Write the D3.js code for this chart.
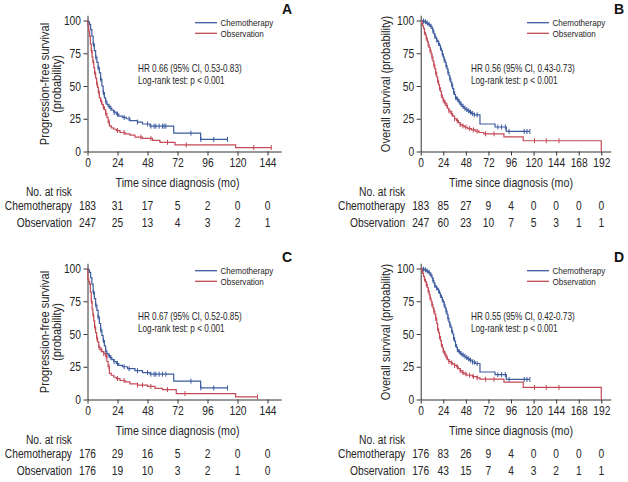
<!DOCTYPE html>
<html><head><meta charset="utf-8">
<script src="https://cdn.jsdelivr.net/npm/d3@7"></script>
<style>
body{margin:0;background:#fff;}
svg{display:block;font-family:"Liberation Sans",Arial,sans-serif;}
</style></head><body>
<svg id="c" width="628" height="482"></svg>
<script>
// ---------- DATA ----------
const groups = ["Chemotherapy", "Observation"];
const pfsTicks = [0, 24, 48, 72, 96, 120, 144];
const osTicks = [0, 24, 48, 72, 96, 120, 144, 168, 192];
const yTicks = [0, 25, 50, 75, 100];
const panelLetters = ["A", "B", "C", "D"];
const hrTexts = ["HR 0.66 (95% CI, 0.53-0.83)", "HR 0.56 (95% CI, 0.43-0.73)",
                 "HR 0.67 (95% CI, 0.52-0.85)", "HR 0.55 (95% CI, 0.42-0.73)"];
const logRankText = "Log-rank test: p < 0.001";
const yLabelPFS = ["Progression-free survival", "(probability)"];
const yLabelOS = "Overall survival (probability)";
const xLabel = "Time since diagnosis (mo)";
const riskLabel = "No. at risk";

// Panel A: progression-free survival
const aChemo = [[0,100],[0.5,99],[1.5,97],[2.5,93],[3.5,88],[4.5,82],[5.5,77],[6.5,72],[7.5,68],[8.5,64],[9.5,60],[10.5,55],[11.5,50],[12.5,45],[13.5,41],[14.5,38],[15.5,36],[16.5,34.5],[18,33],[19.5,31.5],[21,30],[23,28.5],[25,27],[28,26],[31,25],[34,23.5],[40,22.5],[44,21],[50,19.3],[69,14],[90.5,9.2]];
const aChemoEnd = 112;
const aChemoCens = [4.8,6.7,8.5,10.7,12.8,14.7,17.3,18.7,21.3,24,29.3,33.3,40,48,50.7,53.3,54.7,57.3,60,61.3,62.7,82.7,90.7,101,112];
const aObs = [[0,100],[0.3,96],[1,92],[1.7,88],[2.3,82],[3,77],[3.7,72],[4.3,68],[5,64],[5.7,60],[6.5,56],[7.3,52],[8,49],[8.7,45],[9.5,41],[10.5,38],[11.5,36],[12.5,34],[13.5,32],[14.5,29],[15.5,26],[16.5,22.5],[17.5,19.5],[19,18],[21,17],[23,16],[26,14.5],[30,13.5],[34,12.5],[38,11],[44,10],[52,8.5],[58,7],[70,5],[118.5,3]];
const aObsEnd = 147;
const aObsCens = [3.2,4.8,5.9,7.5,9.3,11.2,12.8,14.7,17.3,24,29.3,42.7,50.7,64,79,133,147];
const aRiskChemo = [183, 31, 17, 5, 2, 0, 0];
const aRiskObs = [247, 25, 13, 4, 3, 2, 1];

// Panel B: overall survival
const bChemo = [[0,100],[2,99.5],[4,99],[6,98],[8,97],[10,95.5],[12,94],[13,92],[14,90],[15,88],[16,86.5],[17,85],[18,84],[19,82.5],[20,81],[21,79],[22,77],[23,74.5],[24,72],[25,70],[26,68],[27,65.5],[28,63],[29,60.5],[30,58],[31,55.5],[32,53],[33,51],[34,48],[35,45.5],[36,43.5],[37,41.5],[38,40],[40,38],[42,36],[44,34.5],[46,33],[48,32],[50,31],[52,30],[54,29],[57,28],[63,21],[79,18.7],[91,15.3]];
const bChemoEnd = 116;
const bChemoCens = [3,5,7,9,11,13,15,17,19,21,23,25,27,29,31,33,35,37,39,41,43,45,47,49,51,53,55,57,60,82,86,90,94,110,113,116];
const bObs = [[0,100],[1,98],[2,96],[3,94],[4,91],[5,89],[6,86.5],[7,84],[8,81.5],[9,79.5],[10,77],[11,74.5],[12,72],[13,69],[14,66],[15,63],[16,60],[17,57],[18,54],[19,51],[20,48.5],[21,46],[22,43],[23,41],[24,39],[25.5,37],[27,35],[28.5,33],[30,31],[32,29],[34,27],[36,25],[38,23.5],[40,22],[42,20.5],[44,19.5],[47,18.5],[50,17.5],[54,16.5],[58,15.5],[62,14.5],[67,13.5],[88.5,11.2],[109,8.2],[192,0]];
const bObsEnd = 192;
const bObsCens = [4,6,8,10,12,14,16,18,20,22,24,26,28,30,33,36,39,42,45,48,52,56,60,69,78,121,133.5,147];
const bRiskChemo = [183, 85, 27, 9, 4, 0, 0, 0, 0];
const bRiskObs = [247, 60, 23, 10, 7, 5, 3, 1, 1];

// Panel C: progression-free survival
const cChemo = [[0,100],[0.5,99],[1.5,97],[2.5,93],[3.5,88],[4.5,82],[5.5,77],[6.5,72],[7.5,68],[8.5,63],[9.5,58],[10.5,53],[11.5,49],[12.5,45],[13.5,41],[14.5,37],[15.5,35],[16.5,33.5],[18,32],[19.5,30.5],[21,29],[23,27.5],[25,26],[28,25],[32,23.5],[38,22],[44,20.5],[50,19.3],[69,14],[90.5,8.8]];
const cChemoEnd = 112;
const cChemoCens = [4.8,6.7,8.5,10.7,12.8,14.7,17.3,18.7,21.3,24,29.3,33.3,40,48,50.7,53.3,54.7,57.3,60,62.7,82.7,90.7,101,112];
const cObs = [[0,100],[0.3,92],[1,90],[1.7,88],[2.3,82],[3,75],[3.7,69],[4.3,64],[5,60],[5.7,55],[6.5,51],[7.3,47],[8,44],[9,40],[10,38],[11.5,36.5],[13,35],[14.5,33],[15.5,29],[16.5,25],[17.5,20],[19,18.5],[21,17],[23,16],[26,14.5],[30,13.5],[34,12],[40,11],[48,10],[54,8.5],[60,7.5],[71,4.5],[118.5,2]];
const cObsEnd = 136;
const cObsCens = [3.2,4.8,6,7.5,9.3,11,13,15,17.3,24,29.3,40,44,50.7,64,78,136];
const cRiskChemo = [176, 29, 16, 5, 2, 0, 0];
const cRiskObs = [176, 19, 10, 3, 2, 1, 0];

// Panel D: overall survival
const dChemo = [[0,100],[2,99.5],[4,99],[6,98],[8,97],[10,95],[12,93],[13,91],[14,89],[15,87],[16,86],[17,85],[18,84],[19,83],[20,81],[21,79.5],[22,78],[23,76],[24,74.5],[25,72],[26,70],[27,67.5],[28,65],[29,62],[30,59],[31,57],[32,55],[33,52.5],[34,50],[35,47],[36,44.5],[37,42],[38,40],[39,38],[40,36.5],[42,35],[44,34],[46,33],[48,32],[50,31],[52,30],[55,28.5],[58,27.5],[63,21],[79,19],[91,15.3]];
const dChemoEnd = 116;
const dChemoCens = [3,5,7,9,11,13,15,17,19,21,23,25,27,29,31,33,35,37,39,41,43,45,47,49,51,53,55,57,60,82,86,90,94,110,113,116];
const dObs = [[0,100],[1,98.5],[2,96.5],[3,94],[4,92],[5,90],[6,88],[7,85.5],[8,83],[9,80],[10,77.5],[11,75],[12,72.5],[13,70],[14,67.5],[15,65],[16,62],[17,58],[18,54],[19,51],[20,48],[21,45],[22,42],[23,39.5],[24,37],[25.5,34.5],[27,32],[28.5,30.5],[30,29],[32,28],[34,27],[36,26],[38,25],[40,23.5],[42,22],[44,20.5],[46,19.5],[49,18.5],[55,17.5],[60,16.5],[63,15.5],[88.5,13.3],[109,9.2],[192,0]];
const dObsEnd = 192;
const dObsCens = [4,6,8,10,12,14,16,18,20,22,24,26,28,30,33,36,39,42,45,48,52,56,60,69,78,121,133.5,147];
const dRiskChemo = [176, 83, 26, 9, 4, 0, 0, 0, 0];
const dRiskObs = [176, 43, 15, 7, 4, 3, 2, 1, 1];

// ---------- STYLE / LAYOUT ----------
const colors = ["#3d5c9f", "#c44a57"];
const textColor = "#262626";
const axisColor = "#333";
const dy = 248;
const NARROW = 0.82; // horizontal compression to mimic a condensed face

const panels = [
  {letter: panelLetters[0], curves: [[aChemo,aChemoEnd,aChemoCens],[aObs,aObsEnd,aObsCens]], risk:[aRiskChemo,aRiskObs], ticks: pfsTicks, xMax: 155, x0: 87.5, x1: 87.5+155*1.25, top: 0, left: true, hr: hrTexts[0]},
  {letter: panelLetters[1], curves: [[bChemo,bChemoEnd,bChemoCens],[bObs,bObsEnd,bObsCens]], risk:[bRiskChemo,bRiskObs], ticks: osTicks, xMax: 202, x0: 420.7, x1: 420.7+202*0.9406, top: 0, left: false, hr: hrTexts[1]},
  {letter: panelLetters[2], curves: [[cChemo,cChemoEnd,cChemoCens],[cObs,cObsEnd,cObsCens]], risk:[cRiskChemo,cRiskObs], ticks: pfsTicks, xMax: 155, x0: 87.5, x1: 87.5+155*1.25, top: dy, left: true, hr: hrTexts[2]},
  {letter: panelLetters[3], curves: [[dChemo,dChemoEnd,dChemoCens],[dObs,dObsEnd,dObsCens]], risk:[dRiskChemo,dRiskObs], ticks: osTicks, xMax: 202, x0: 420.7, x1: 420.7+202*0.9406, top: dy, left: false, hr: hrTexts[3]}
];

const svg = d3.select("#c");

function survAt(curve, t) {
  let s = 100;
  for (const [tt, ss] of curve) if (tt <= t) s = ss;
  return s;
}

// narrow text helper
function ntext(parent, x, y, str, size, anchor, rot) {
  return parent.append("text")
    .attr("transform", `translate(${x},${y})` + (rot ? ` rotate(${rot})` : "") + ` scale(${NARROW},1)`)
    .attr("text-anchor", anchor || "start")
    .attr("fill", textColor)
    .style("font-size", size + "px")
    .text(str);
}

panels.forEach(p => {
  const g = svg.append("g").attr("transform", `translate(0,${p.top})`);
  const x = d3.scaleLinear().domain([0, p.xMax]).range([p.x0, p.x1]);
  const y = d3.scaleLinear().domain([0, 104]).range([151.5, 151.5 - 104*1.31]);

  // axes
  const xa = g.append("g").attr("transform", `translate(0,${y(0)})`)
    .call(d3.axisBottom(x).tickValues(p.ticks).tickSize(4).tickSizeOuter(0).tickPadding(3));
  const ya = g.append("g").attr("transform", `translate(${x(0)},0)`)
    .call(d3.axisLeft(y).tickValues(yTicks).tickSize(4).tickSizeOuter(0).tickPadding(2));
  [xa, ya].forEach(a => {
    a.select(".domain").attr("stroke", axisColor).attr("stroke-width", 1);
    a.selectAll(".tick line").attr("stroke", axisColor);
    a.selectAll(".tick text").attr("fill", textColor).style("font-size", "12.5px")
      .style("font-family", '"Liberation Sans",Arial,sans-serif');
  });
  xa.selectAll(".tick text").attr("transform", `scale(${NARROW},1)`);
  ya.selectAll(".tick text").attr("x", -6.5 / NARROW).attr("transform", `scale(${NARROW},1)`);

  // curves
  const line = d3.line().x(d => x(d[0])).y(d => y(d[1])).curve(d3.curveStepAfter);
  p.curves.forEach(([curve, end, cens], i) => {
    const pts = curve.concat([[end, curve[curve.length-1][1]]]);
    g.append("path").attr("d", line(pts)).attr("fill", "none")
      .attr("stroke", colors[i]).attr("stroke-width", 1.2);
    g.selectAll(null).data(cens).enter().append("line")
      .attr("x1", d => x(d)).attr("x2", d => x(d))
      .attr("y1", d => y(survAt(curve, d)) - 2.5).attr("y2", d => y(survAt(curve, d)) + 2.5)
      .attr("stroke", colors[i]).attr("stroke-width", 1);
  });

  // legend
  const lx = p.left ? 195 : 527;
  groups.forEach((gname, i) => {
    const ly = 22.7 + i*10.6;
    g.append("line").attr("x1", lx).attr("x2", lx+22).attr("y1", ly).attr("y2", ly)
      .attr("stroke", colors[i]).attr("stroke-width", 1.3);
    ntext(g, lx+25.5, ly+3.5, gname, 9.8);
  });

  // HR text
  const hx = p.left ? 138 : 471;
  ntext(g, hx, 71.5, p.hr, 10);
  ntext(g, hx, 83.5, logRankText, 10);

  // panel letter
  g.append("text").attr("x", p.left ? 287 : 619).attr("y", 13.5).attr("text-anchor", "middle")
    .text(p.letter).attr("fill", "#111").style("font-size", "14px").style("font-weight", "bold");

  // y label
  if (p.left) {
    ntext(g, 49, 84, yLabelPFS[0], 13.5, "middle", -90);
    ntext(g, 61, 84, yLabelPFS[1], 13.5, "middle", -90);
  } else {
    ntext(g, 390, 84, yLabelOS, 13.5, "middle", -90);
  }

  // x label
  const xEnd = x(p.ticks[p.ticks.length-1]);
  ntext(g, (x(0)+xEnd)/2, 186.5, xLabel, 13, "middle");

  // risk table
  const rx = x(0) - 15.5;
  ntext(g, rx, 195.5, riskLabel, 12.5, "end");
  groups.forEach((gname, i) => {
    const ry = 209.5 + i*17.5;
    ntext(g, rx, ry, gname, 12.5, "end");
    p.risk[i].forEach((d, j) => ntext(g, x(p.ticks[j]), ry, d, 12.5, "middle"));
  });
});
</script>
</body></html>
